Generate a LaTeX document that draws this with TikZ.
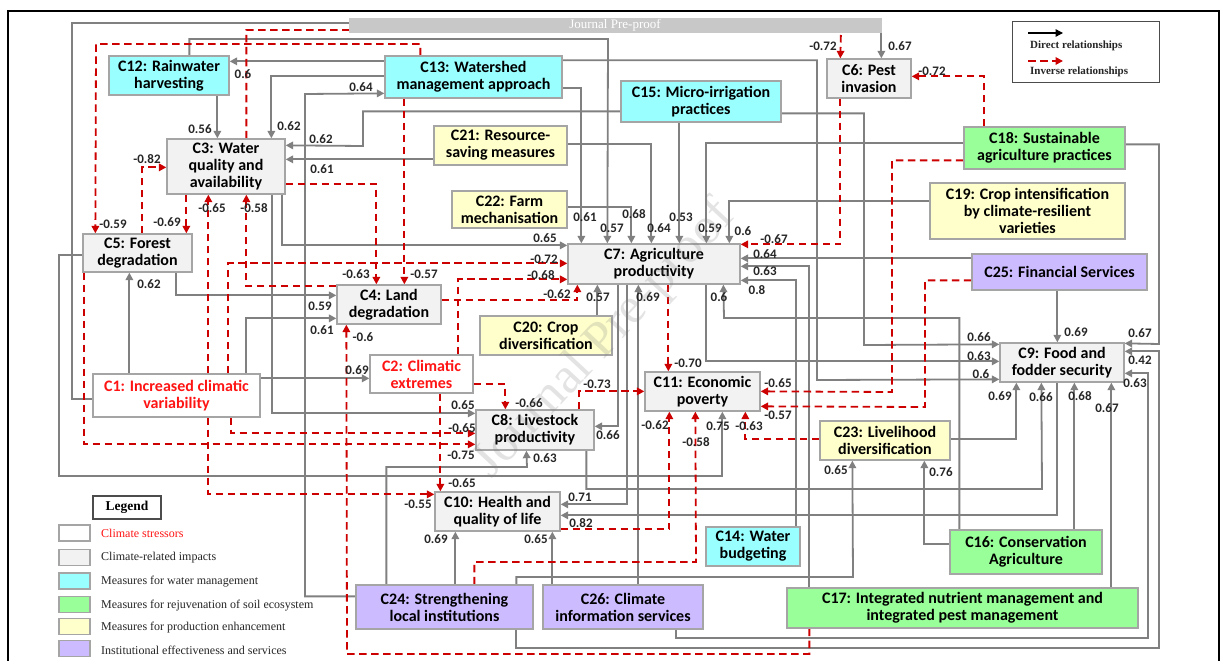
\documentclass[tikz,border=0pt]{standalone}
\usepackage{fontspec}
\setmainfont{Carlito}
\newfontfamily\seriffont{Liberation Serif}
\usetikzlibrary{arrows.meta}
\pgfdeclarelayer{bg}
\pgfdeclarelayer{paper}
\pgfsetlayers{paper,bg,main}

\definecolor{cyanbox}{RGB}{153,255,255}
\definecolor{greenbox}{RGB}{153,255,153}
\definecolor{yellowbox}{RGB}{255,255,204}
\definecolor{purplebox}{RGB}{204,187,255}
\definecolor{impactbox}{RGB}{242,242,242}
\definecolor{boxline}{RGB}{165,165,165}
\definecolor{dirline}{RGB}{128,128,128}
\definecolor{invline}{RGB}{205,0,0}
\definecolor{stressred}{RGB}{255,20,20}
\definecolor{barfill}{RGB}{200,200,200}

\begin{document}
\begin{tikzpicture}[x=1pt,y=-1pt,
  concept/.style={draw=boxline, line width=1.3pt, align=center, inner sep=0pt,
    font=\fontsize{16}{17}\selectfont\bfseries},
  stressor/.style={concept, fill=white, text=stressred},
  impact/.style={concept, fill=impactbox},
  water/.style={concept, fill=cyanbox},
  soil/.style={concept, fill=greenbox},
  prod/.style={concept, fill=yellowbox},
  inst/.style={concept, fill=purplebox},
  tip/.style={-{Triangle[length=7.5pt,width=7.5pt]}},
  dir/.style={draw=dirline, line width=1.8pt, tip},
  inv/.style={draw=invline, line width=1.8pt, dash pattern=on 7.5pt off 4.5pt, tip},
  lbl/.style={font=\fontsize{13}{13}\selectfont\bfseries, inner sep=0pt, text=black!85},
  swatch/.style={draw=boxline, line width=1.2pt, minimum width=31pt, minimum height=16pt, inner sep=0pt},
  legtxt/.style={anchor=west, inner sep=0pt, font=\seriffont\fontsize{12}{12}\selectfont, text=black!85},
  keytxt/.style={anchor=west, inner sep=0pt, font=\seriffont\bfseries\fontsize{11}{11}\selectfont, text=black!85}
]
\useasboundingbox (0,0) rectangle (1221,661);
\begin{pgfonlayer}{paper}
\fill[white] (0,0) rectangle (1221,661);
\end{pgfonlayer}

% outer frame
\draw[line width=1.8pt] (8,661) -- (8,11) -- (1219,11) -- (1219,661);

% concept boxes
\node[water,  minimum width=120pt, minimum height=39pt] (c12) at (169,75.5) {C12: Rainwater\\harvesting};
\node[water,  minimum width=177pt, minimum height=42pt] (c13) at (473.5,77) {C13: Watershed\\management approach};
\node[water,  minimum width=160pt, minimum height=41pt] (c15) at (701,101.5) {C15: Micro-irrigation\\practices};
\node[impact, minimum width=84pt,  minimum height=39pt] (c6)  at (869,78.5) {C6: Pest\\invasion};
\node[impact, minimum width=118pt, minimum height=55pt] (c3)  at (226,166.5) {C3: Water\\quality and\\availability};
\node[prod,   minimum width=133pt, minimum height=39pt] (c21) at (500.5,145.5) {C21: Resource-\\saving measures};
\node[soil,   minimum width=161pt, minimum height=42pt] (c18) at (1044.5,148) {C18: Sustainable\\agriculture practices};
\node[prod,   minimum width=115pt, minimum height=37pt] (c22) at (509.5,209.5) {C22: Farm\\mechanisation};
\node[prod,   minimum width=195pt, minimum height=56pt] (c19) at (1027.5,211) {C19: Crop intensification\\by climate-resilient\\varieties};
\node[impact, minimum width=109pt, minimum height=38pt] (c5)  at (137.5,253) {C5: Forest\\degradation};
\node[impact, minimum width=172pt, minimum height=40pt] (c7)  at (654,264) {C7: Agriculture\\productivity};
\node[inst,   minimum width=175pt, minimum height=36pt] (c25) at (1059.5,272) {C25: Financial Services};
\node[impact, minimum width=104pt, minimum height=39pt] (c4)  at (389,304.5) {C4: Land\\degradation};
\node[prod,   minimum width=132pt, minimum height=39pt] (c20) at (546,335.5) {C20: Crop\\diversification};
\node[stressor, minimum width=103pt, minimum height=38pt] (c2) at (421.5,374) {C2: Climatic\\extremes};
\node[stressor, minimum width=167pt, minimum height=43pt] (c1) at (176.5,395.5) {C1: Increased climatic\\variability};
\node[impact, minimum width=115pt, minimum height=39pt] (c11) at (702.5,391.5) {C11: Economic\\poverty};
\node[impact, minimum width=124pt, minimum height=39pt] (c9)  at (1062,362.5) {C9: Food and\\fodder security};
\node[impact, minimum width=118pt, minimum height=40pt] (c8)  at (535,430) {C8: Livestock\\productivity};
\node[prod,   minimum width=130pt, minimum height=39pt] (c23) at (885,440.5) {C23: Livelihood\\diversification};
\node[impact, minimum width=125pt, minimum height=39pt] (c10) at (497.5,511.5) {C10: Health and\\quality of life};
\node[water,  minimum width=94pt,  minimum height=39pt] (c14) at (753,546.5) {C14: Water\\budgeting};
\node[soil,   minimum width=152pt, minimum height=44pt] (c16) at (1026,552) {C16: Conservation\\Agriculture};
\node[inst,   minimum width=177pt, minimum height=44pt] (c24) at (444.5,607) {C24: Strengthening\\local institutions};
\node[inst,   minimum width=160pt, minimum height=44pt] (c26) at (623,607) {C26: Climate\\information services};
\node[soil,   minimum width=351pt, minimum height=40pt] (c17) at (962.5,608) {C17: Integrated nutrient management and\\integrated pest management};

\begin{pgfonlayer}{bg}
% direct relationships
\draw[dir] ([yshift=-26pt]c1.north west) -| (72,23) -| ([xshift=55pt]c6.north west);
\draw[dir] ([xshift=81pt]c12.north west) |- (608,39) -- ([xshift=40pt]c7.north west);
\draw[dir] ([yshift=-33pt]c13.north east) -| ([xshift=14pt]c7.north west);
\draw[dir] ([yshift=-17pt]c22.north east) -| ([xshift=64pt]c7.north west);
\draw[dir] ([yshift=-19pt]c21.north east) -| ([xshift=84pt]c7.north west);
\draw[dir] ([xshift=59pt]c15.south west) -- ([xshift=112pt]c7.north west);
\draw[dir] ([yshift=-17pt]c18.north west) -| ([xshift=139pt]c7.north west);
\draw[dir] ([yshift=-19pt]c19.north west) -| ([xshift=162pt]c7.north west);
\draw[dir] ([xshift=116pt]c3.south west) |- ([yshift=-2pt]c7.north west);
\draw[dir] ([xshift=94pt]c5.south west) |- ([yshift=-11pt]c4.north west);
\draw[dir] ([xshift=154pt]c1.north west) |- ([yshift=-34pt]c4.north west);
\draw[dir] ([xshift=37pt]c1.north west) -- ([xshift=47pt]c5.south west);
\draw[dir] ([yshift=-5pt]c1.north east) -- ([yshift=-24pt]c2.north west);
\draw[dir] ([yshift=-6pt]c13.north west) -- ([yshift=-6pt]c12.north east);
\draw[dir] ([xshift=109pt]c12.south west) -- ([xshift=51pt]c3.north west);
\draw[dir] ([yshift=-21pt]c13.north west) -| ([xshift=105pt]c3.north west);
\draw[dir] ([yshift=-31pt]c15.north west) -| (363,146) -- ([yshift=-7pt]c3.north east);
\draw[dir] ([yshift=-34pt]c21.north west) -- ([yshift=-21pt]c3.north east);
\draw[dir] ([yshift=-12pt]c24.north west) -| (305,94) -- ([yshift=-38pt]c13.north west);
\draw[dir] ([xshift=106pt]c3.south west) |- ([yshift=-4pt]c8.north west);
\draw[dir] ([yshift=-33pt]c15.north east) -| (864,345) -- ([yshift=-2pt]c9.north west);
\draw[dir] ([xshift=139pt]c7.south west) |- ([yshift=-19pt]c9.north west);
\draw[dir] ([yshift=-5pt]c13.north east) -| (817,380) -- ([yshift=-37pt]c9.north west);
\draw[dir] ([xshift=86pt]c25.south west) -- ([xshift=58pt]c9.north west);
\draw[dir] ([yshift=-18pt]c18.north east) -| (1159,344) -- ([yshift=-1pt]c9.north east);
\draw[dir] ([xshift=161pt]c24.south west) |- (1159,648) |- ([yshift=-9pt]c9.north east);
\draw[dir] ([xshift=134pt]c26.south west) |- (1148,638) |- ([yshift=-31pt]c9.north east);
\draw[dir] ([yshift=-19pt]c23.north east) -| ([xshift=17pt]c9.south west);
\draw[dir] ([xshift=111pt]c8.south west) |- (1042,489) -- ([xshift=42pt]c9.south west);
\draw[dir] ([xshift=58pt]c9.south west) |- ([yshift=-24pt]c10.north east);
\draw[dir] ([xshift=125pt]c16.north west) -- ([xshift=75pt]c9.south west);
\draw[dir] ([xshift=325pt]c17.north west) -- ([xshift=112pt]c9.south west);
\draw[dir] ([yshift=-15pt]c16.north west) -| ([xshift=105pt]c23.south west);
\draw[dir] ([xshift=161pt]c24.north west) |- (853,577) -- ([xshift=33pt]c23.south west);
\draw[dir] ([xshift=31pt]c24.north west) |- (527,467) -- ([xshift=51pt]c8.south west);
\draw[dir] ([xshift=100pt]c24.north west) -- ([xshift=21pt]c10.south west);
\draw[dir] ([xshift=10pt]c26.north west) -- ([xshift=118pt]c10.south west);
\draw[dir] ([xshift=96pt]c26.north west) -- ([xshift=71pt]c7.south west);
\draw[dir] ([xshift=51pt]c7.south west) |- ([yshift=-17pt]c8.north east);
\draw[dir] ([xshift=60pt]c7.south west) |- ([yshift=-13pt]c10.north east);
\draw[dir] ([xshift=118pt]c20.north west) -- ([xshift=30pt]c7.south west);
\draw[dir] ([xshift=10pt]c16.north west) |- (724,318) -- ([xshift=156pt]c7.south west);
\draw[dir] ([yshift=-5pt]c25.north west) -- ([yshift=-15pt]c7.north east);
\draw[dir] ([xshift=23pt]c17.north west) |- ([yshift=-23pt]c7.north east);
\draw[dir] ([xshift=91pt]c14.north west) |- ([yshift=-37pt]c7.north east);
\draw[dir] ([yshift=-22pt]c5.north west) -| (59,476) -| ([xshift=78pt]c11.south west);

% inverse relationships
\draw[inv] ([xshift=80pt]c3.north west) |- (841,30) -- ([xshift=14pt]c6.north west);
\draw[inv] ([xshift=14pt]c6.south west) |- ([yshift=-1pt]c7.north east);
\draw[inv] ([xshift=21pt]c18.north west) |- ([yshift=-18pt]c6.north east);
\draw[inv] ([xshift=36pt]c13.north west) |- (96,44) -- ([xshift=13pt]c5.north west);
\draw[inv] ([xshift=60pt]c5.north west) |- ([yshift=-29pt]c3.north west);
\draw[inv] ([xshift=20pt]c3.south west) -- ([xshift=104pt]c5.north west);
\draw[inv] ([xshift=116pt]c1.north west) -- ([xshift=42pt]c3.south west);
\draw[inv] ([yshift=-2pt]c4.north west) -| ([xshift=80pt]c3.south west);
\draw[inv] ([yshift=-46pt]c3.north east) -| ([xshift=40pt]c4.north west);
\draw[inv] ([xshift=20pt]c13.south west) -- ([xshift=68pt]c4.north west);
\draw[inv] ([xshift=136pt]c1.north west) |- ([yshift=-20pt]c7.north west);
\draw[inv] ([xshift=89pt]c2.north west) |- ([yshift=-36pt]c7.north west);
\draw[inv] ([yshift=-16pt]c4.north east) -| ([xshift=10pt]c7.south west);
\draw[inv] ([xshift=139pt]c1.south west) |- ([yshift=-24pt]c8.north west);
\draw[inv] ([xshift=2pt]c5.south west) |- ([yshift=-35pt]c8.north west);
\draw[inv] ([xshift=71pt]c2.south west) -- ([xshift=6pt]c10.north west);
\draw[inv] ([xshift=116pt]c1.south west) |- ([yshift=-3pt]c10.north west);
\draw[inv] ([xshift=23pt]c17.south west) |- (347,654) -- ([xshift=10pt]c4.south west);
\draw[inv] ([yshift=-30pt]c2.north east) -| ([xshift=30pt]c8.north west);
\draw[inv] ([xshift=104pt]c8.north west) |- ([yshift=-20pt]c11.north west);
\draw[inv] ([xshift=101pt]c7.south west) -- ([xshift=24pt]c11.north west);
\draw[inv] ([yshift=-34pt]c18.north west) -| (892,392) -- ([yshift=-20pt]c11.north east);
\draw[inv] ([yshift=-27pt]c25.north west) -| (925,407) -- ([yshift=-35pt]c11.north east);
\draw[inv] ([yshift=-19pt]c23.north west) -| ([xshift=101pt]c11.south west);
\draw[inv] ([yshift=-38pt]c10.north east) -| ([xshift=25pt]c11.south west);
\draw[inv] ([xshift=119pt]c24.north west) |- (696,562) -- ([xshift=51pt]c11.south west);
\end{pgfonlayer}

% grey running-head bar
\fill[barfill] (349,18) rectangle (882,33);
\node[font=\seriffont\fontsize{13}{13}\selectfont, text=white, inner sep=0pt] (runhead) at (615,25.5) {Journal Pre-proof};

% weights
\node[lbl] (w01) at (900,46) {0.67};
\node[lbl] (w02) at (823,46) {-0.72};
\node[lbl] (w03) at (932,71) {-0.72};
\node[lbl] (w04) at (243,74) {0.6};
\node[lbl] (w05) at (361,87) {0.64};
\node[lbl] (w06) at (200,129) {0.56};
\node[lbl] (w07) at (289,126) {0.62};
\node[lbl] (w08) at (321,139) {0.62};
\node[lbl] (w09) at (322,169) {0.61};
\node[lbl] (w10) at (147,159) {-0.82};
\node[lbl] (w11) at (113,224) {-0.59};
\node[lbl] (w12) at (167,222) {-0.69};
\node[lbl] (w13) at (212,208) {-0.65};
\node[lbl] (w14) at (254,208) {-0.58};
\node[lbl] (w15) at (149,284) {0.62};
\node[lbl] (w16) at (356,274) {-0.63};
\node[lbl] (w17) at (424,274) {-0.57};
\node[lbl] (w18) at (320,306) {0.59};
\node[lbl] (w19) at (322,330) {0.61};
\node[lbl] (w20) at (363,337) {-0.6};
\node[lbl] (w21) at (357,370) {0.69};
\node[lbl] (w22) at (585,217) {0.61};
\node[lbl] (w23) at (612,228) {0.57};
\node[lbl] (w24) at (634,214) {0.68};
\node[lbl] (w25) at (659,228) {0.64};
\node[lbl] (w26) at (681,217) {0.53};
\node[lbl] (w27) at (710,228) {0.59};
\node[lbl] (w28) at (743,231) {0.6};
\node[lbl] (w29) at (545,238) {0.65};
\node[lbl] (w30) at (544,259) {-0.72};
\node[lbl] (w31) at (541,275) {-0.68};
\node[lbl] (w32) at (557,294) {-0.62};
\node[lbl] (w33) at (598,297) {0.57};
\node[lbl] (w34) at (648,297) {0.69};
\node[lbl] (w35) at (719,297) {0.6};
\node[lbl] (w36) at (774,239) {-0.67};
\node[lbl] (w37) at (765,254) {0.64};
\node[lbl] (w38) at (765,271) {0.63};
\node[lbl] (w39) at (757,290) {0.8};
\node[lbl] (w40) at (688,363) {-0.70};
\node[lbl] (w41) at (597,384) {-0.73};
\node[lbl] (w42) at (778,383) {-0.65};
\node[lbl] (w43) at (778,415) {-0.57};
\node[lbl] (w44) at (529,403) {-0.66};
\node[lbl] (w45) at (463,405) {0.65};
\node[lbl] (w46) at (462,428) {-0.65};
\node[lbl] (w47) at (608,435) {0.66};
\node[lbl] (w48) at (655,425) {-0.62};
\node[lbl] (w49) at (718,426) {0.75};
\node[lbl] (w50) at (749,426) {-0.63};
\node[lbl] (w51) at (696,442) {-0.58};
\node[lbl] (w52) at (461,455) {-0.75};
\node[lbl] (w53) at (545,458) {0.63};
\node[lbl] (w54) at (462,483) {-0.65};
\node[lbl] (w55) at (580,497) {0.71};
\node[lbl] (w56) at (418,504) {-0.55};
\node[lbl] (w57) at (581,523) {0.82};
\node[lbl] (w58) at (436,539) {0.69};
\node[lbl] (w59) at (536,539) {0.65};
\node[lbl] (w60) at (836,470) {0.65};
\node[lbl] (w61) at (941,472) {0.76};
\node[lbl] (w62) at (979,337) {0.66};
\node[lbl] (w63) at (979,356) {0.63};
\node[lbl] (w64) at (981,374) {0.6};
\node[lbl] (w65) at (1076,332) {0.69};
\node[lbl] (w66) at (1140,333) {0.67};
\node[lbl] (w67) at (1140,360) {0.42};
\node[lbl] (w68) at (1135,383) {0.63};
\node[lbl] (w69) at (1000,396) {0.69};
\node[lbl] (w70) at (1041,397) {0.66};
\node[lbl] (w71) at (1080,396) {0.68};
\node[lbl] (w72) at (1107,408) {0.67};

% key to the connector styles
\node[draw=black!70, line width=1pt, minimum width=147pt, minimum height=61pt, inner sep=0pt] (keybox) at (1085.5,52.5) {};
\coordinate (kd1) at (1028,33);
\coordinate (kd2) at (1063,33);
\coordinate (ki1) at (1028,61);
\coordinate (ki2) at (1063,61);
\draw[black, line width=1.3pt, tip] (kd1) -- (kd2);
\draw[inv] (ki1) -- (ki2);
\node[keytxt] (kdt) at (1030,46) {Direct relationships};
\node[keytxt] (kit) at (1030,72) {Inverse relationships};

% legend of box colours
\node[draw=black!70, line width=1.2pt, minimum width=68pt, minimum height=23pt, inner sep=0pt,
  font=\seriffont\bfseries\fontsize{13.5}{14}\selectfont] (legtitle) at (127,507.5) {Legend};
\node[swatch, fill=white]      (s1) at (74.5,533) {};
\node[swatch, fill=impactbox]  (s2) at (74.5,557.5) {};
\node[swatch, fill=cyanbox]    (s3) at (74.5,581) {};
\node[swatch, fill=greenbox]   (s4) at (74.5,604.5) {};
\node[swatch, fill=yellowbox]  (s5) at (74.5,626.5) {};
\node[swatch, fill=purplebox]  (s6) at (74.5,648.5) {};
\node[legtxt, text=stressred] (t1) at (101,533) {Climate stressors};
\node[legtxt] (t2) at (101,558) {Climate-related impacts};
\node[legtxt] (t3) at (101,582) {Measures for water management};
\node[legtxt] (t4) at (101,606) {Measures for rejuvenation of soil ecosystem};
\node[legtxt] (t5) at (101,628) {Measures for production enhancement};
\node[legtxt] (t6) at (101,650) {Institutional effectiveness and services};

% diagonal watermark
\node[rotate=47, font=\seriffont\fontsize{51}{51}\selectfont, text=gray, opacity=0.22, inner sep=0pt] (wm) at (605,340) {Journal Pre-proof};
\end{tikzpicture}
\end{document}
